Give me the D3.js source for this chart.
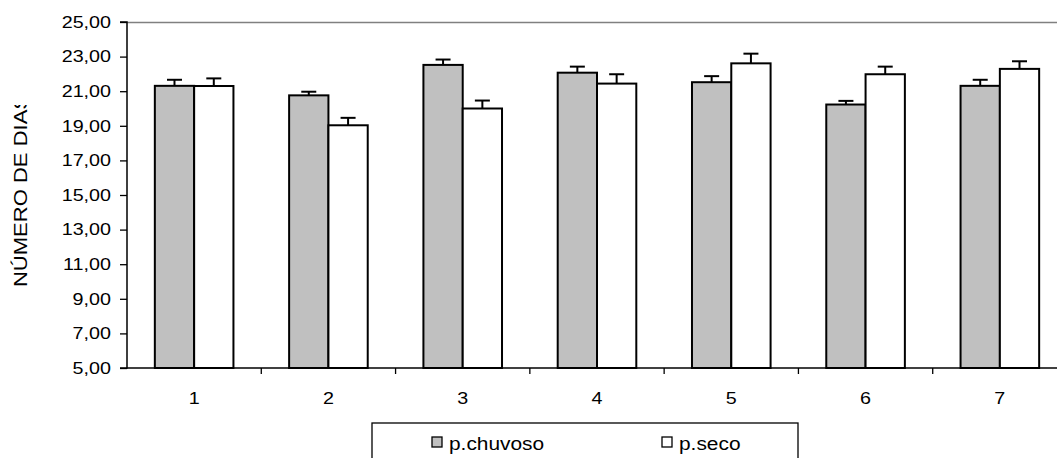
<!DOCTYPE html>
<html><head><meta charset="utf-8">
<script src="https://cdn.jsdelivr.net/npm/d3@7"></script>
<style>body{margin:0;background:#fff;overflow:hidden}svg{display:block}text{font-family:"Liberation Sans",Arial,sans-serif}</style>
</head><body>
<svg id="c" width="1057" height="458"></svg>
<script>
const categories = ["1","2","3","4","5","6","7"];
const seriesNames = ["p.chuvoso","p.seco"];
const chuvoso = [21.31, 20.76, 22.52, 22.07, 21.52, 20.23, 21.31];
const chuvosoErr = [0.35, 0.21, 0.31, 0.35, 0.35, 0.21, 0.35];
const seco = [21.30, 19.03, 20.00, 21.44, 22.61, 21.98, 22.29];
const secoErr = [0.44, 0.43, 0.46, 0.54, 0.56, 0.44, 0.44];
const yTicks = [5,7,9,11,13,15,17,19,21,23,25];
const yTitle = "NÚMERO DE DIAS";

const svg = d3.select("#c");
const L = 127, T = 22, B = 368, R = 1067;
const SX = 1.16; // glyph width stretch seen in the reference
const FONT = '"Liberation Sans",Arial,sans-serif';
const x = d3.scaleBand().domain(categories).range([L, R]);
const y = d3.scaleLinear().domain([5, 25]).range([B, T]);
const colors = ["#c0c0c0", "#ffffff"];
const series = [
  {name: seriesNames[0], vals: chuvoso, err: chuvosoErr, color: colors[0]},
  {name: seriesNames[1], vals: seco, err: secoErr, color: colors[1]}
];
const bw = 39.3;

function stretch(sel) {
  sel.each(function() {
    const t = d3.select(this);
    const xx = +t.attr("x") || 0, yy = +t.attr("y") || 0;
    t.attr("x", 0).attr("y", 0)
     .attr("transform", `translate(${xx},${yy}) scale(${SX},1)`);
  });
}

// top / right border of plot area
svg.append("line").attr("x1", L).attr("x2", R).attr("y1", T+0.5).attr("y2", T+0.5)
  .attr("stroke", "#808080").attr("stroke-width", 1.5);
svg.append("line").attr("x1", R-0.5).attr("x2", R-0.5).attr("y1", T).attr("y2", B)
  .attr("stroke", "#808080").attr("stroke-width", 1.5);

// bars
series.forEach((s, si) => {
  const g = svg.append("g");
  const cx = d => x(d) + x.bandwidth()/2 + (si - 1) * bw + bw/2;
  g.selectAll("line.err").data(categories).enter().append("line")
    .attr("x1", cx).attr("x2", cx)
    .attr("y1", (d, i) => y(s.vals[i]))
    .attr("y2", (d, i) => y(s.vals[i] + s.err[i]))
    .attr("stroke", "#000").attr("stroke-width", 2);
  g.selectAll("line.cap").data(categories).enter().append("line")
    .attr("x1", d => cx(d) - 7.5).attr("x2", d => cx(d) + 7.5)
    .attr("y1", (d, i) => y(s.vals[i] + s.err[i]))
    .attr("y2", (d, i) => y(s.vals[i] + s.err[i]))
    .attr("stroke", "#000").attr("stroke-width", 2);
  g.selectAll("rect").data(categories).enter().append("rect")
    .attr("x", d => x(d) + x.bandwidth()/2 + (si - 1) * bw)
    .attr("y", (d, i) => y(s.vals[i]))
    .attr("width", bw)
    .attr("height", (d, i) => y(5) - y(s.vals[i]))
    .attr("fill", s.color).attr("stroke", "#000").attr("stroke-width", 2);
});

// y axis
const yAxis = d3.axisLeft(y).tickValues(yTicks).tickSize(7).tickPadding(9)
  .tickFormat(d => d3.format(".2f")(d).replace(".", ","));
const ya = svg.append("g").attr("transform", `translate(${L},0)`).call(yAxis);
ya.select(".domain").attr("stroke", "#000").attr("stroke-width", 1.5).attr("d", `M-7,${T}H0V${B}H-7`);
ya.selectAll(".tick line").attr("stroke", "#000").attr("stroke-width", 1.3);
ya.selectAll("text").attr("font-size", 17).attr("fill", "#000").style("font-family", FONT)
  .attr("dy", null).attr("y", 5.2).call(stretch);

// x axis
const xa = svg.append("g").attr("transform", `translate(0,${B})`)
  .call(d3.axisBottom(x).tickSize(0).tickPadding(36));
xa.select(".domain").attr("stroke", "#000").attr("stroke-width", 1.5).attr("d", `M${L},0H${R}`);
xa.selectAll("text").attr("font-size", 17).attr("fill", "#000").style("font-family", FONT)
  .attr("dy", null).call(stretch);
// category boundary ticks
svg.append("g").selectAll("line").data(categories).enter().append("line")
  .attr("x1", d => x(d) + x.bandwidth()).attr("x2", d => x(d) + x.bandwidth())
  .attr("y1", B).attr("y2", B + 6).attr("stroke", "#000").attr("stroke-width", 1.3);

// y title (clipped)
svg.append("clipPath").attr("id", "tc").append("rect")
  .attr("x", 0).attr("y", 105).attr("width", 40).attr("height", 250);
svg.append("g").attr("clip-path", "url(#tc)").append("text")
  .attr("transform", `translate(26.7,191) rotate(-90) scale(${SX},1)`)
  .attr("text-anchor", "middle").attr("font-size", 19).attr("fill", "#000")
  .text(yTitle);

// legend
const lg = svg.append("g");
lg.append("rect").attr("x", 372).attr("y", 423).attr("width", 426).attr("height", 50)
  .attr("fill", "#fff").attr("stroke", "#000").attr("stroke-width", 1.3);
const lx = [432, 662];
series.forEach((s, i) => {
  lg.append("rect").attr("x", lx[i]).attr("y", 437).attr("width", 10).attr("height", 10)
    .attr("fill", s.color).attr("stroke", "#000").attr("stroke-width", 1.3);
  lg.append("text").attr("transform", `translate(${lx[i] + 17},450) scale(${SX},1)`)
    .attr("font-size", 18).attr("fill", "#000").text(s.name);
});
</script>
</body></html>
